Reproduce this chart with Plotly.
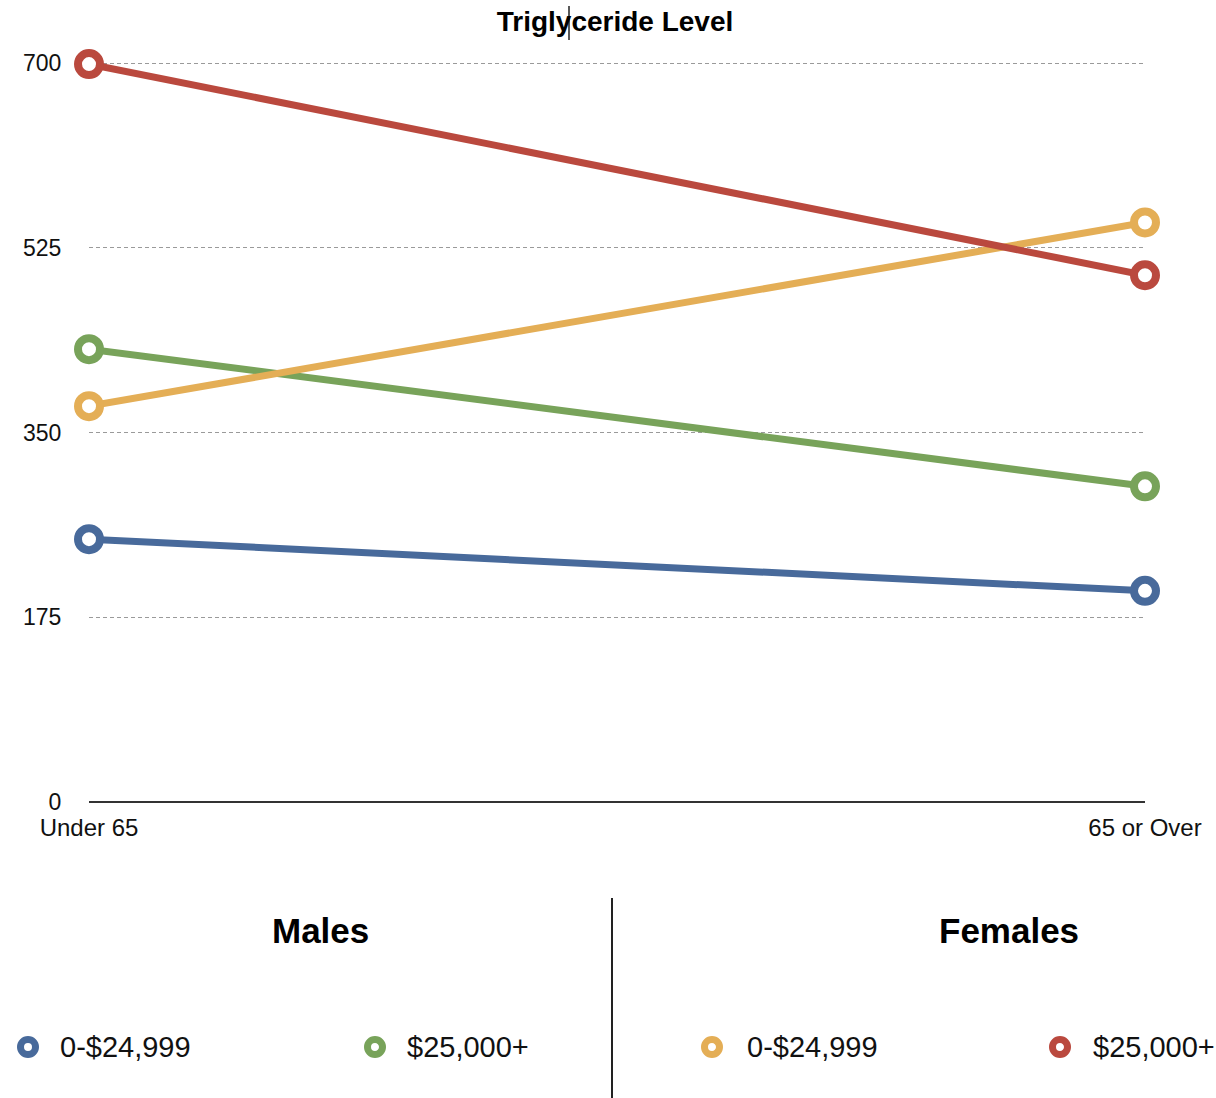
import plotly.graph_objects as go

categories = ["Under 65", "65 or Over"]
male_low = [249, 200]
male_high = [429, 299]
female_low = [375, 549]
female_high = [699, 499]
y_ticks = [0, 175, 350, 525, 700]

series = [
    ("Males 0-$24,999", male_low, "#486A9B"),
    ("Males $25,000+", male_high, "#78A35A"),
    ("Females 0-$24,999", female_low, "#E4AE56"),
    ("Females $25,000+", female_high, "#BA493E"),
]

W, H = 1216, 1098
L, R, T, B = 89, 1145, 62, 802
YMAX = 701

fig = go.Figure()
xs = list(range(len(categories)))
for name, vals, col in series:
    fig.add_trace(go.Scatter(
        x=xs, y=vals, name=name, mode="lines+markers",
        line=dict(color=col, width=7),
        marker=dict(symbol="circle", size=22, color="white",
                    line=dict(color=col, width=8)),
        cliponaxis=False, showlegend=False,
    ))

def py(pix):
    return (B - pix) / (B - T)

def px(pix):
    return (pix - L) / (R - L)

font = "Liberation Sans, Arial, sans-serif"
annotations = [
    dict(text="<b>Males</b>", x=px(320), y=py(930), xref="paper", yref="paper",
         showarrow=False, font=dict(size=35, color="black", family=font),
         xanchor="center", yanchor="middle"),
    dict(text="<b>Females</b>", x=px(1009), y=py(930), xref="paper", yref="paper",
         showarrow=False, font=dict(size=35, color="black", family=font),
         xanchor="center", yanchor="middle"),
]
legend_items = [
    (28, 58, "0-$24,999", series[0][2]),
    (375, 405, "$25,000+", series[1][2]),
    (712, 745, "0-$24,999", series[2][2]),
    (1060, 1091, "$25,000+", series[3][2]),
]
shapes = []
for mx, tx, label, col in legend_items:
    annotations.append(dict(text=label, x=px(tx), y=py(1047), xref="paper", yref="paper",
                            showarrow=False, font=dict(size=29, color="#111", family=font),
                            xanchor="left", yanchor="middle"))
    shapes.append(dict(type="circle", xref="paper", yref="paper",
                       xsizemode="pixel", ysizemode="pixel",
                       xanchor=px(mx), yanchor=py(1047),
                       x0=-7.5, x1=7.5, y0=-7.5, y1=7.5,
                       line=dict(color=col, width=7), fillcolor="white"))
# divider
shapes.append(dict(type="line", xref="paper", yref="paper",
                   x0=px(612), x1=px(612), y0=py(898), y1=py(1098),
                   line=dict(color="#222", width=2)))
# text cursor in title
shapes.append(dict(type="line", xref="paper", yref="paper",
                   x0=px(569), x1=px(569), y0=py(6), y1=py(40),
                   line=dict(color="#222", width=1.5)))

fig.update_layout(
    width=W, height=H,
    margin=dict(l=L, r=W - R, t=T, b=H - B, pad=0),
    paper_bgcolor="white", plot_bgcolor="white",
    title=dict(text="<b>Triglyceride Level</b>", x=px(615), xref="paper",
               y=1 - 21 / H, yref="container", xanchor="center", yanchor="middle",
               font=dict(size=28, color="black", family=font)),
    font=dict(family=font, color="#111"),
    xaxis=dict(range=[0, 1], tickvals=xs, ticktext=categories, showgrid=False,
               zeroline=False, showline=False, ticks="outside", ticklen=4,
               tickcolor="rgba(0,0,0,0)", tickfont=dict(size=24, color="#111")),
    yaxis=dict(range=[0, YMAX], tickvals=y_ticks, showgrid=True, gridcolor="#9a9a9a",
               gridwidth=1, griddash="4px,3px", zeroline=True, zerolinecolor="#333",
               zerolinewidth=2, showline=False, ticks="outside", ticklen=22,
               tickcolor="rgba(0,0,0,0)", tickfont=dict(size=23, color="#111")),
    annotations=annotations, shapes=shapes,
)

fig.write_html("out.html", config={"displayModeBar": False},
               post_script="document.body.style.margin='0';document.body.style.padding='0';")
